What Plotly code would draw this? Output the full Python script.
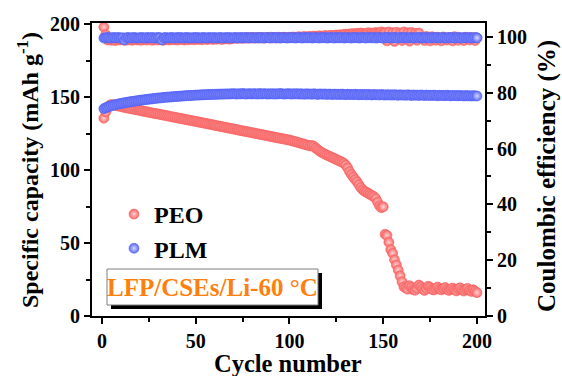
import plotly.graph_objects as go

cycles = list(range(1, 201))

peo_capacity = [
    135.5, 139.8, 142.6, 144.2, 144.8, 144.6, 144.3, 144.0, 143.8, 143.5,
    143.2, 142.9, 142.7, 142.4, 142.1, 141.9, 141.6, 141.3, 141.1, 140.9,
    140.6, 140.3, 140.1, 139.8, 139.6, 139.3, 139.0, 138.8, 138.6, 138.4,
    138.1, 137.8, 137.6, 137.3, 137.1, 136.8, 136.5, 136.3, 136.0, 135.8,
    135.5, 135.3, 135.0, 134.8, 134.5, 134.3, 134.0, 133.8, 133.5, 133.3,
    133.0, 132.7, 132.5, 132.2, 132.0, 131.7, 131.5, 131.2, 131.0, 130.7,
    130.4, 130.2, 129.9, 129.7, 129.4, 129.1, 128.9, 128.6, 128.4, 128.1,
    127.9, 127.6, 127.3, 127.1, 126.8, 126.6, 126.3, 126.1, 125.8, 125.6,
    125.3, 125.0, 124.8, 124.5, 124.3, 124.0, 123.8, 123.5, 123.3, 123.0,
    122.7, 122.5, 122.2, 122.0, 121.7, 121.5, 121.2, 121.0, 120.7, 120.5,
    120.1, 119.8, 119.4, 119.1, 118.7, 118.3, 118.0, 117.6, 117.2, 116.9,
    116.5, 116.8, 116.2, 115.0, 114.0, 113.0, 112.2, 111.5, 110.8, 110.2,
    109.6, 109.0, 108.4, 107.8, 107.2, 106.5, 106.0, 105.4, 104.6, 103.4,
    101.5, 99.0, 97.0, 95.2, 93.5, 92.0, 90.0, 88.0, 86.5, 85.5,
    84.8, 84.0, 83.2, 82.5, 81.8, 80.5, 78.0, 75.5, 74.2, 74.8,
    56.0, 55.2, 50.5, 45.5, 43.0, 38.5, 35.0, 31.5, 27.5, 23.5,
    20.0, 19.2, 18.4, 20.8, 19.5, 18.0, 17.6, 19.0, 21.2, 20.0,
    18.6, 17.5, 18.8, 20.4, 19.6, 18.2, 17.8, 18.9, 19.8, 18.5,
    17.9, 18.7, 19.5, 18.2, 17.5, 18.4, 19.1, 18.0, 17.2, 18.6,
    19.3, 17.8, 17.1, 18.2, 18.9, 17.5, 16.8, 17.9, 17.0, 16.0,
]

plm_capacity = [
    142.0, 142.7, 143.2, 143.6, 144.0, 144.4, 144.7, 145.0, 145.3, 145.6,
    145.8, 146.1, 146.3, 146.5, 146.7, 146.9, 147.1, 147.3, 147.5, 147.7,
    147.9, 148.0, 148.2, 148.4, 148.5, 148.7, 148.8, 149.0, 149.1, 149.3,
    149.4, 149.5, 149.7, 149.8, 149.9, 150.0, 150.1, 150.2, 150.3, 150.4,
    150.5, 150.6, 150.7, 150.8, 150.9, 151.0, 151.0, 151.1, 151.2, 151.3,
    151.3, 151.4, 151.5, 151.5, 151.6, 151.6, 151.7, 151.7, 151.8, 151.8,
    151.9, 151.9, 152.0, 152.0, 152.0, 152.1, 152.1, 152.1, 152.2, 152.2,
    152.2, 152.0, 152.3, 152.1, 152.4, 152.2, 152.0, 152.3, 152.2, 152.1,
    152.3, 152.2, 152.0, 152.4, 152.1, 152.2, 152.3, 152.0, 152.2, 152.1,
    152.3, 152.0, 152.2, 152.1, 152.4, 152.2, 152.0, 152.1, 152.3, 152.2,
    152.0, 152.2, 152.1, 152.3, 152.0, 152.2, 152.1, 151.9, 152.2, 152.0,
    152.1, 151.9, 152.2, 152.0, 151.8, 152.1, 152.0, 151.9, 152.1, 151.8,
    152.0, 151.9, 151.7, 152.0, 151.8, 151.9, 151.7, 152.0, 151.8, 151.6,
    151.9, 151.7, 151.8, 151.6, 151.9, 151.7, 151.5, 151.8, 151.6, 151.7,
    151.5, 151.8, 151.6, 151.4, 151.7, 151.5, 151.6, 151.4, 151.7, 151.5,
    151.3, 151.6, 151.4, 151.5, 151.3, 151.6, 151.4, 151.2, 151.5, 151.3,
    151.4, 151.2, 151.5, 151.3, 151.1, 151.4, 151.2, 151.3, 151.1, 151.4,
    151.2, 151.0, 151.3, 151.1, 151.2, 151.0, 151.3, 151.1, 150.9, 151.2,
    151.0, 151.1, 150.9, 151.2, 151.0, 150.8, 151.1, 150.9, 151.0, 150.8,
    151.0, 150.9, 150.7, 151.0, 150.8, 150.9, 150.7, 150.9, 150.8, 150.7,
]

peo_ce = [
    103.5, 100.8, 98.9, 99.1, 98.8, 99.0, 98.7, 99.2, 98.9, 99.0,
    99.1, 98.8, 99.0, 98.9, 99.2, 98.8, 99.0, 99.1, 98.9, 99.0,
    98.8, 99.1, 99.0, 98.9, 99.2, 99.0, 98.8, 99.1, 99.0, 98.9,
    99.1, 99.0, 98.8, 99.2, 99.0, 98.9, 99.1, 99.0, 99.2, 98.9,
    99.0, 99.2, 99.1, 98.9, 99.2, 99.0, 99.1, 99.3, 99.0, 99.2,
    99.1, 99.3, 99.0, 99.2, 99.3, 99.1, 99.2, 99.4, 99.1, 99.3,
    99.2, 99.4, 99.3, 99.1, 99.4, 99.3, 99.5, 99.2, 99.4, 99.5,
    99.6, 99.5, 99.7, 99.6, 99.5, 99.7, 99.6, 99.8, 99.6, 99.7,
    99.6, 99.8, 99.7, 99.6, 99.8, 99.7, 99.6, 99.8, 99.7, 99.9,
    99.7, 99.8, 99.6, 99.9, 99.7, 99.8, 99.9, 99.7, 99.8, 99.9,
    99.8, 100.0, 99.8, 99.9, 100.1, 99.9, 100.0, 100.2, 99.9, 100.1,
    100.2, 100.0, 100.3, 100.1, 100.2, 100.4, 100.2, 100.3, 100.5, 100.3,
    100.4, 100.6, 100.4, 100.5, 100.7, 100.5, 100.8, 100.6, 100.9, 101.0,
    100.8, 101.1, 101.0, 101.2, 100.9, 101.3, 101.1, 101.4, 101.2, 101.0,
    101.3, 101.5, 101.1, 101.4, 101.2, 101.6, 101.3, 101.5, 101.8, 101.4,
    101.6, 98.6, 101.8, 99.9, 101.5, 98.4, 101.7, 100.2, 101.4, 98.7,
    101.8, 99.6, 101.5, 98.5, 101.6, 100.0, 101.3, 98.8, 101.4, 99.8,
    99.6, 98.7, 100.2, 99.5, 98.6, 100.1, 99.7, 98.8, 99.9, 99.4,
    98.6, 100.0, 99.5, 98.9, 99.8, 99.3, 98.6, 100.1, 99.6, 98.8,
    99.7, 99.2, 98.7, 99.9, 99.4, 98.9, 99.8, 99.3, 98.7, 99.6,
]

plm_ce = [
    99.6, 99.7, 99.8, 99.7, 99.6, 99.8, 99.7, 99.7, 99.8, 99.6,
    99.7, 98.9, 99.7, 99.8, 99.6, 99.7, 99.8, 99.7, 99.6, 99.7,
    99.8, 99.7, 99.6, 99.8, 99.7, 99.7, 99.8, 99.6, 99.7, 99.8,
    99.7, 98.9, 99.7, 99.8, 99.6, 99.7, 99.8, 99.7, 99.6, 99.8,
    99.7, 99.8, 99.6, 99.7, 99.8, 99.7, 99.7, 99.6, 99.8, 99.7,
    99.8, 99.6, 99.7, 99.8, 99.7, 99.6, 99.8, 99.7, 99.7, 99.8,
    99.6, 99.7, 99.8, 99.7, 99.6, 99.8, 99.7, 99.8, 99.6, 99.7,
    99.8, 99.7, 99.6, 99.8, 99.7, 99.7, 99.8, 99.6, 99.7, 99.8,
    99.7, 99.6, 99.8, 99.7, 99.8, 99.6, 99.7, 99.8, 99.7, 99.6,
    99.8, 99.7, 99.7, 99.8, 99.6, 99.7, 99.8, 99.7, 99.6, 99.8,
    99.7, 99.8, 99.6, 99.7, 99.8, 99.7, 99.6, 99.8, 99.7, 99.7,
    99.8, 99.6, 99.7, 99.8, 99.7, 99.6, 99.8, 99.7, 99.8, 99.6,
    99.7, 99.8, 99.7, 99.6, 99.8, 99.7, 99.7, 99.8, 99.6, 99.7,
    99.8, 99.7, 99.6, 99.8, 99.7, 99.8, 99.6, 99.7, 99.8, 99.7,
    99.6, 99.8, 99.7, 99.7, 99.8, 99.6, 99.7, 99.8, 99.7, 99.6,
    99.8, 99.7, 99.8, 99.6, 99.7, 99.8, 99.7, 99.6, 99.8, 99.7,
    99.7, 99.8, 99.6, 99.7, 99.8, 99.7, 99.6, 99.8, 99.7, 99.8,
    99.6, 99.7, 99.8, 99.7, 99.6, 99.8, 99.7, 99.7, 99.8, 99.6,
    99.7, 99.8, 99.7, 99.6, 99.8, 99.7, 99.8, 99.6, 99.7, 99.8,
    99.7, 99.6, 99.8, 99.7, 99.7, 99.8, 99.6, 99.7, 99.8, 99.7,
]

x_ticks = [0, 50, 100, 150, 200]
cap_ticks = [0, 50, 100, 150, 200]
ce_ticks = [0, 20, 40, 60, 80, 100]

RED = "#F86767"
RED_C = "#FFD2D2"
BLUE = "#5865F6"
BLUE_C = "#D6DAFF"
FONT = "Liberation Serif"

W, H = 562, 376
L, R, T, B = 92, 77, 23, 60
PW, PH = W - L - R, H - T - B


def px(x):
    return (x - L) / PW


def py(y):
    return (H - B - y) / PH


def mk(col, center):
    return dict(size=10, color=col, line=dict(width=0.6, color=col),
                gradient=dict(type="radial", color=center))


fig = go.Figure()
fig.add_trace(go.Scatter(x=cycles, y=peo_capacity, mode="markers", name="PEO",
                         marker=mk(RED, RED_C), yaxis="y"))
fig.add_trace(go.Scatter(x=cycles, y=peo_ce, mode="markers", name="PEO CE",
                         marker=mk(RED, RED_C), yaxis="y2", showlegend=False))
fig.add_trace(go.Scatter(x=cycles, y=plm_capacity, mode="markers", name="PLM",
                         marker=mk(BLUE, BLUE_C), yaxis="y"))
fig.add_trace(go.Scatter(x=cycles, y=plm_ce, mode="markers", name="PLM CE",
                         marker=mk(BLUE, BLUE_C), yaxis="y2", showlegend=False))

axis_font = dict(family=FONT, size=20, color="black", weight="bold")
title_font = dict(family=FONT, size=24, color="black", weight="bold")

common = dict(ticks="outside", ticklen=6, tickwidth=2, tickcolor="black",
              showline=True, linewidth=2, linecolor="black", showgrid=False,
              zeroline=False, tickfont=axis_font, automargin=False)

fig.update_layout(
    width=W, height=H,
    margin=dict(l=L, r=R, t=T, b=B),
    paper_bgcolor="white", plot_bgcolor="white",
    font=dict(family=FONT, color="black"),
    xaxis=dict(
        range=[-5.33, 204.27], tickvals=x_ticks, mirror=True,
        minor=dict(tickvals=[25, 75, 125, 175], ticks="outside", ticklen=4,
                   tickwidth=2, tickcolor="black"),
        **common,
    ),
    yaxis=dict(
        range=[0, 200.7], tickvals=cap_ticks, mirror=True,
        minor=dict(tickvals=[25, 75, 125, 175], ticks="outside", ticklen=4,
                   tickwidth=2, tickcolor="black"),
        **common,
    ),
    yaxis2=dict(
        range=[0, 105], tickvals=ce_ticks, overlaying="y", side="right",
        minor=dict(tickvals=[10, 30, 50, 70, 90], ticks="outside", ticklen=4,
                   tickwidth=2, tickcolor="black"),
        **common,
    ),
    legend=dict(x=px(114), y=py(192), xanchor="left", yanchor="top",
                bgcolor="rgba(0,0,0,0)", borderwidth=0,
                font=dict(family=FONT, size=24, color="black", weight="bold"),
                itemwidth=30, tracegroupgap=0),
    showlegend=True,
)

# axis titles
fig.add_annotation(xref="paper", yref="paper", x=px(288), y=py(363),
                   text="Cycle number", showarrow=False,
                   font=dict(family=FONT, size=24.5, color="black",
                             weight="bold"),
                   xanchor="center", yanchor="middle")
fig.add_annotation(xref="paper", yref="paper", x=px(28), y=py(170),
                   text="Specific capacity (mAh g<sup>-1</sup>)",
                   showarrow=False, font=title_font, textangle=-90,
                   xanchor="center", yanchor="middle")
fig.add_annotation(xref="paper", yref="paper", x=px(547), y=py(176),
                   text="Coulombic efficiency (%)", showarrow=False,
                   font=dict(family=FONT, size=25, color="black",
                             weight="bold"),
                   textangle=-90, xanchor="center", yanchor="middle")

# inset label box with drop shadow
fig.add_shape(type="rect", xref="paper", yref="paper",
              x0=px(111), x1=px(322), y0=py(309), y1=py(273),
              fillcolor="black", line=dict(width=0), layer="above")
fig.add_shape(type="rect", xref="paper", yref="paper",
              x0=px(107), x1=px(318), y0=py(305), y1=py(269),
              fillcolor="white", line=dict(width=1, color="#7f7f7f"),
              layer="above")
fig.add_annotation(xref="paper", yref="paper", x=px(212.5), y=py(287),
                   text="LFP/CSEs/Li-60 °C", showarrow=False,
                   font=dict(family=FONT, size=25, color="#FF7F0E",
                             weight="bold"),
                   xanchor="center", yanchor="middle")

fig.write_html(
    "out.html",
    config={"displayModeBar": False},
    post_script="document.body.style.margin='0';"
                "document.body.style.padding='0';"
                "document.documentElement.style.overflow='hidden';",
)
